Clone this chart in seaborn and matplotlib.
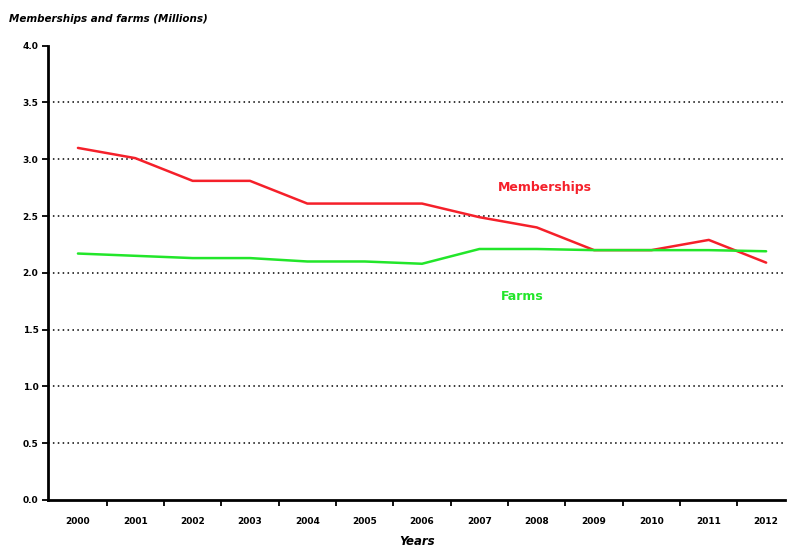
import numpy as np
import pandas as pd
import matplotlib
matplotlib.use("Agg")
import matplotlib.pyplot as plt
import seaborn as sns

# Data (millions)
years = ["2000", "2001", "2002", "2003", "2004", "2005", "2006",
         "2007", "2008", "2009", "2010", "2011", "2012"]
memberships = [3.10, 3.01, 2.81, 2.81, 2.61, 2.61, 2.61, 2.49, 2.40, 2.20, 2.20, 2.29, 2.09]
farms = [2.17, 2.15, 2.13, 2.13, 2.10, 2.10, 2.08, 2.21, 2.21, 2.20, 2.20, 2.20, 2.19]
y_ticks = [0.0, 0.5, 1.0, 1.5, 2.0, 2.5, 3.0, 3.5, 4.0]

RED = "#f5202a"
GREEN = "#22e62a"

df = pd.DataFrame({
    "pos": list(range(len(years))) * 2,
    "value": memberships + farms,
    "series": ["Memberships"] * len(years) + ["Farms"] * len(years),
})

sns.set_style("white")
plt.rcParams["font.family"] = ["DejaVu Sans"]
plt.rcParams["text.color"] = "black"
plt.rcParams["axes.labelcolor"] = "black"
plt.rcParams["xtick.color"] = "black"
plt.rcParams["ytick.color"] = "black"

fig = plt.figure(figsize=(7.89, 5.54), dpi=100)
ax = fig.add_axes([0.061, 0.0975, 0.934, 0.82])

# dotted grid lines (drawn first so the series sit above them)
for yv in y_ticks[1:-1]:
    ax.axhline(yv, color="black", linestyle=(0, (1, 2.2)), linewidth=1.1, zorder=1)

sns.lineplot(data=df, x="pos", y="value", hue="series",
             palette={"Memberships": RED, "Farms": GREEN},
             linewidth=1.8, legend=False, ax=ax, zorder=3)

ax.set_xlim(-0.52, 12.33)
ax.set_ylim(0, 4.0)

# y axis
ax.set_yticks(y_ticks)
ax.set_yticklabels([f"{v:.1f}" for v in y_ticks], fontsize=6.5, fontweight="bold")
ax.tick_params(axis="y", direction="out", length=4, width=1.3, pad=3, left=True)

# x axis: labels at category centres, tick marks at category boundaries
ax.set_xticks(range(len(years)))
ax.set_xticklabels(years, fontsize=6.5, fontweight="bold")
ax.tick_params(axis="x", which="major", length=0, pad=12)
ax.set_xticks(np.arange(0.5, len(years) - 0.5, 1.0), minor=True)
ax.tick_params(axis="x", which="minor", direction="out", length=4, width=1.3, bottom=True)

for side in ["top", "right"]:
    ax.spines[side].set_visible(False)
for side in ["left", "bottom"]:
    ax.spines[side].set_linewidth(2.0)
    ax.spines[side].set_color("black")

ax.set_xlabel("Years", fontsize=8.5, fontweight="bold", style="italic", labelpad=7)
ax.set_ylabel("")

fig.text(0.011, 0.965, "Memberships and farms (Millions)", fontsize=7.5,
         fontweight="bold", style="italic", ha="left", va="center")

# in-chart series labels
ax.text(8.15, 2.75, "Memberships", color=RED, fontsize=9, fontweight="bold",
        ha="center", va="center")
ax.text(7.75, 1.79, "Farms", color=GREEN, fontsize=9, fontweight="bold",
        ha="center", va="center")

fig.savefig("out.png", dpi=100)
